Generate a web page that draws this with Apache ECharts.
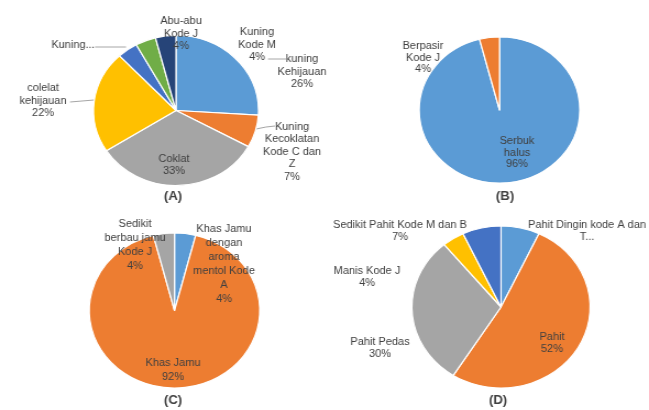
<!DOCTYPE html>
<html>
<head>
<meta charset="utf-8">
<script src="https://cdn.jsdelivr.net/npm/echarts@6/dist/echarts.min.js"></script>
<style>
html,body{margin:0;padding:0;background:#fff;overflow:hidden;}
#wrap{width:649px;height:410px;overflow:hidden;}
#chart{height:410px;transform-origin:0 0;}
</style>
</head>
<body>
<div id="wrap"><div id="chart"></div></div>
<script>
// ---- Data ----
const catsA = ['Kuning Kehijauan', 'Kuning Kecoklatan Kode C dan Z', 'Coklat', 'Colelat Kehijauan', 'Kuning', 'Kuning Kode M', 'Abu-abu Kode J'];
const valsA = [26, 7, 33, 22, 4, 4, 4];
const textA = ['kuning\nKehijauan\n26%', 'Kuning\nKecoklatan\nKode C dan\nZ\n7%', 'Coklat\n33%', 'colelat\nkehijauan\n22%', 'Kuning...', 'Kuning\nKode M\n4%', 'Abu-abu\nKode J\n4%'];

const catsB = ['Serbuk halus', 'Berpasir Kode J'];
const valsB = [96, 4];
const textB = ['Serbuk\nhalus\n96%', 'Berpasir\nKode J\n4%'];

const catsC = ['Khas Jamu dengan aroma mentol Kode A', 'Khas Jamu', 'Sedikit berbau jamu Kode J'];
const valsC = [4, 92, 4];
const textC = ['Khas Jamu\ndengan\naroma\nmentol Kode\nA\n4%', 'Khas Jamu\n92%', 'Sedikit\nberbau jamu\nKode J\n4%'];

const catsD = ['Pahit Dingin kode A dan T', 'Pahit', 'Pahit Pedas', 'Manis Kode J', 'Sedikit Pahit Kode M dan B'];
const valsD = [7, 52, 30, 4, 7];
const textD = ['Pahit Dingin kode A dan\nT...', 'Pahit\n52%', 'Pahit Pedas\n30%', 'Manis Kode J\n4%', 'Sedikit Pahit Kode M dan B\n7%'];

const captions = ['(A)', '(B)', '(C)', '(D)'];

// ---- Styles / layout (screen coordinates; the figure is horizontally stretched like the original image) ----
const SX = 1.1;
const W = 649 / SX;
const chartEl = document.getElementById('chart');
chartEl.style.width = W + 'px';
chartEl.style.transform = 'scaleX(' + SX + ')';
function px(x) { return x / SX; }
function pts(list) { return list.map(function (p) { return [px(p[0]), p[1]]; }); }

const colorsA = ['#5B9BD5', '#ED7D31', '#A5A5A5', '#FFC000', '#4472C4', '#70AD47', '#264478'];
const colorsB = ['#5B9BD5', '#ED7D31'];
const colorsC = ['#5B9BD5', '#ED7D31', '#A5A5A5'];
const colorsD = ['#5B9BD5', '#ED7D31', '#A5A5A5', '#FFC000', '#4472C4'];

const layoutCfg = [
  { center: [176, 110.5], radius: 75, colors: colorsA, lh: 12.5,
    pos: [[302, 72], [292, 152], [174, 165], [43, 101], [73, 45], [257, 45], [181, 34]],
    lines: { 1: [[256, 129], [266, 127], [275, 126]], 3: [[70, 102], [94, 100]], 4: [[95, 47], [110, 47], [126, 47]], 5: [[268, 59], [286, 59]] } },
  { center: [499.5, 110], radius: 73, colors: colorsB, lh: 11.5,
    pos: [[517, 153], [423, 58]], lines: {} },
  { center: [174.5, 310.5], radius: 77.5, colors: colorsC, lh: 14,
    pos: [[224, 264], [173, 370], [135, 245]], lines: {} },
  { center: [501, 307], radius: 81, colors: colorsD, lh: 12,
    pos: [[587, 231], [552, 343], [380, 348], [367, 277], [400, 231]], lines: {} }
];
const captionPos = [[173, 197], [505, 197], [173, 401], [498, 401]];

const sets = [
  [catsA, valsA, textA],
  [catsB, valsB, textB],
  [catsC, valsC, textC],
  [catsD, valsD, textD]
];

const series = sets.map(function (s, si) {
  const cfg = layoutCfg[si];
  return {
    type: 'pie',
    center: [px(cfg.center[0]), cfg.center[1]],
    radius: cfg.radius,
    startAngle: 90,
    clockwise: true,
    avoidLabelOverlap: false,
    animation: false,
    itemStyle: { borderColor: '#ffffff', borderWidth: 1.2 },
    label: {
      show: true, position: 'outside',
      fontFamily: 'Liberation Sans', fontSize: 10, color: '#404040',
      lineHeight: cfg.lh, align: 'center'
    },
    labelLine: { show: false, lineStyle: { color: '#a6a6a6', width: 1 } },
    labelLayout: function (p) {
      const pt = cfg.pos[p.dataIndex];
      const out = { x: px(pt[0]), y: pt[1], align: 'center', verticalAlign: 'middle' };
      if (cfg.lines[p.dataIndex]) out.labelLinePoints = pts(cfg.lines[p.dataIndex]);
      return out;
    },
    data: s[0].map(function (name, i) {
      const item = {
        name: name, value: s[1][i],
        itemStyle: { color: cfg.colors[i] },
        label: { formatter: s[2][i] }
      };
      if (cfg.lines[i]) item.labelLine = { show: true };
      return item;
    })
  };
});

const chart = echarts.init(chartEl, null, { width: W, height: 410 });
chart.setOption({
  backgroundColor: '#ffffff',
  series: series,
  graphic: captions.map(function (c, i) {
    return {
      type: 'text', x: px(captionPos[i][0]), y: captionPos[i][1],
      style: { text: c, fontFamily: 'Liberation Sans', fontWeight: 'bold', fontSize: 12, fill: '#404040', align: 'center', verticalAlign: 'middle' }
    };
  })
});
</script>
</body>
</html>
